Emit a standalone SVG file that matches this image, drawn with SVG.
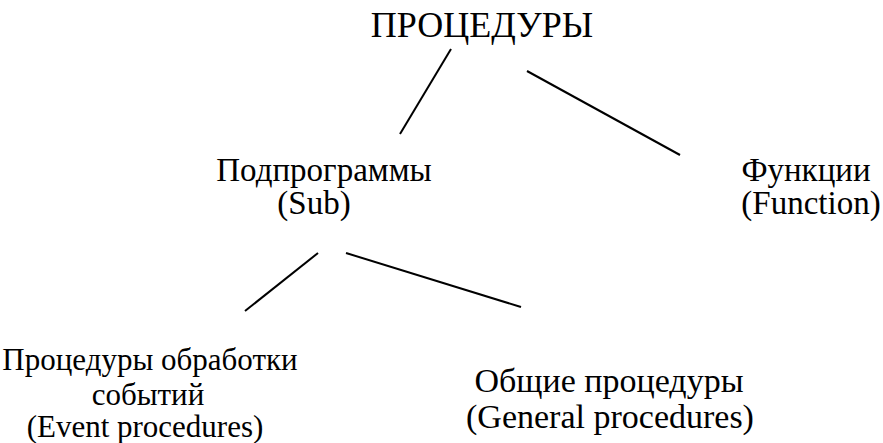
<svg xmlns="http://www.w3.org/2000/svg" width="883" height="443" viewBox="0 0 883 443">
<style>
.t{font-family:"Liberation Serif","Times New Roman",serif;fill:#000;text-anchor:middle}
.c line{stroke:#000;stroke-width:2}
</style>
<rect width="883" height="443" fill="#fff"/>
<g id="root" class="t" font-size="36" font-family="Liberation Serif, Times New Roman, serif"><text x="482" y="37">ПРОЦЕДУРЫ</text></g>
<g id="sub" class="t" font-size="33" font-family="Liberation Serif, Times New Roman, serif"><text x="324" y="181">Подпрограммы</text><text x="314" y="214">(Sub)</text></g>
<g id="func" class="t" font-size="33" font-family="Liberation Serif, Times New Roman, serif"><text x="806" y="181">Функции</text><text x="811" y="214">(Function)</text></g>
<g id="event" class="t" font-size="31" font-family="Liberation Serif, Times New Roman, serif"><text x="150" y="370">Процедуры обработки</text><text x="148" y="405">событий</text><text x="145" y="437">(Event procedures)</text></g>
<g id="general" class="t" font-size="34" font-family="Liberation Serif, Times New Roman, serif"><text x="609" y="392">Общие процедуры</text><text x="610" y="428">(General procedures)</text></g>
<g class="c" id="connectors">
<line x1="451" y1="49" x2="400" y2="134"/>
<line x1="527" y1="71" x2="680" y2="155"/>
<line x1="318" y1="253" x2="245" y2="311"/>
<line x1="346" y1="253" x2="521" y2="307"/>
</g>
</svg>
